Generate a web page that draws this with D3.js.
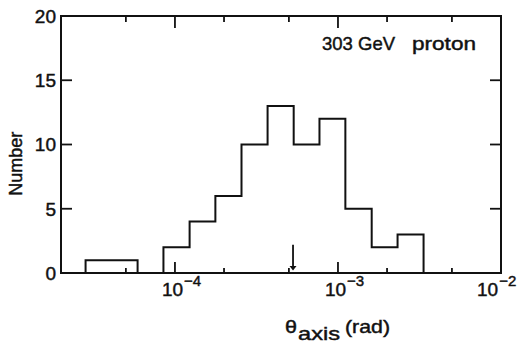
<!DOCTYPE html>
<html>
<head>
<meta charset="utf-8">
<script src="https://cdn.jsdelivr.net/npm/d3@7"></script>
<style>
  html, body { margin: 0; padding: 0; background: #fff; }
  svg { display: block; }
  text { font-family: "Liberation Sans", "DejaVu Sans", sans-serif; fill: #111; stroke: #111; stroke-width: 0.45px; }
</style>
</head>
<body>
<svg id="chart" width="521" height="343"></svg>
<script>
// Bin edges of the angular distribution (rad), log-spaced
const binEdges = [2.83e-5, 4.08e-5, 5.9e-5, 8.5e-5, 1.23e-4, 1.77e-4, 2.56e-4,
                  3.7e-4, 5.35e-4, 7.7e-4, 1.11e-3, 1.61e-3, 2.32e-3, 3.35e-3];
// Number of events in each bin
const counts = [1, 1, 0, 2, 4, 6, 10, 13, 10, 12, 5, 2, 3];
// Mean value, marked by the arrow
const meanTheta = 5.3e-4;

const xDomain = [2e-5, 1e-2];
const yDomain = [0, 20];
const yTicks = [0, 5, 10, 15, 20];
const xMajorTicks = [1e-4, 1e-3, 1e-2];
const xMajorExp = ["-4", "-3", "-2"];
const xMinorTicks = [5e-5, 2e-4, 5e-4, 2e-3, 5e-3];
const titleParts = ["303 GeV", "proton"];
const xTitleParts = ["\u03b8", "axis", "(rad)"];

const margin = { left: 61, right: 20, top: 16, bottom: 70 };
const W = 521, H = 343;
const iw = W - margin.left - margin.right;
const ih = H - margin.top - margin.bottom;

const svg = d3.select("#chart");
const g = svg.append("g").attr("transform", `translate(${margin.left},${margin.top})`);

const x = d3.scaleLog().domain(xDomain).range([0, iw]);
const y = d3.scaleLinear().domain(yDomain).range([ih, 0]);

const ink = "#111";

// Inward ticks on all four sides
function ticks(sel, vals, len, side) {
  vals.forEach(v => {
    if (side === "bottom") sel.append("line").attr("x1", x(v)).attr("x2", x(v)).attr("y1", ih).attr("y2", ih - len);
    if (side === "top") sel.append("line").attr("x1", x(v)).attr("x2", x(v)).attr("y1", 0).attr("y2", len);
    if (side === "left") sel.append("line").attr("x1", 0).attr("x2", len).attr("y1", y(v)).attr("y2", y(v));
    if (side === "right") sel.append("line").attr("x1", iw).attr("x2", iw - len).attr("y1", y(v)).attr("y2", y(v));
  });
}
const tg = g.append("g").attr("stroke", ink).attr("stroke-width", 1.8);
const innerX = xMajorTicks.filter(v => v < xDomain[1]);
ticks(tg, innerX, 11, "bottom");
ticks(tg, innerX, 12, "top");
ticks(tg, xMinorTicks, 5, "bottom");
ticks(tg, xMinorTicks, 6, "top");
const innerY = yTicks.filter(v => v > yDomain[0] && v < yDomain[1]);
ticks(tg, innerY, 11, "left");
ticks(tg, innerY, 11, "right");

// Frame
g.append("rect").attr("x", 0).attr("y", 0).attr("width", iw).attr("height", ih)
  .attr("fill", "none").attr("stroke", ink).attr("stroke-width", 2);

// Y tick labels
g.append("g").selectAll("text").data(yTicks).join("text")
  .attr("x", -5).attr("y", d => y(d)).attr("dy", "0.36em")
  .attr("text-anchor", "end").attr("font-size", 19).text(d => d);

// X tick labels: 10 with superscript exponent
const xl = g.append("g").selectAll("text").data(xMajorTicks).join("text")
  .attr("x", d => Math.min(x(d) - 13, iw - 24)).attr("y", ih + 23)
  .attr("text-anchor", "start").attr("font-size", 19);
xl.append("tspan").text("10");
xl.append("tspan").attr("dy", -10).attr("dx", 1).attr("font-size", 15).text((d, i) => "\u2212" + xMajorExp[i].slice(1));

// Axis titles
const xt = g.append("g").attr("transform", `translate(0,${ih})`);
xt.append("text").attr("x", 224).attr("y", 60).attr("font-size", 19)
  .attr("textLength", 12).attr("lengthAdjust", "spacingAndGlyphs").text(xTitleParts[0]);
xt.append("text").attr("x", 237).attr("y", 67).attr("font-size", 19)
  .attr("textLength", 42).attr("lengthAdjust", "spacingAndGlyphs").text(xTitleParts[1]);
xt.append("text").attr("x", 284).attr("y", 60).attr("font-size", 19)
  .attr("textLength", 45).attr("lengthAdjust", "spacingAndGlyphs").text(xTitleParts[2]);

svg.append("text").attr("transform", `translate(22,${margin.top + y(8.5)}) rotate(-90)`)
  .attr("text-anchor", "middle").attr("font-size", 18).text("Number");

// Run label
g.append("text").attr("x", 261).attr("y", 34).attr("font-size", 19)
  .attr("textLength", 73).attr("lengthAdjust", "spacingAndGlyphs").text(titleParts[0]);
g.append("text").attr("x", 351).attr("y", 34).attr("font-size", 19)
  .attr("textLength", 64).attr("lengthAdjust", "spacingAndGlyphs").text(titleParts[1]);

// Histogram outline as a step line
const pts = [[binEdges[0], 0]];
counts.forEach((c, i) => { pts.push([binEdges[i], c]); pts.push([binEdges[i + 1], c]); });
pts.push([binEdges[binEdges.length - 1], 0]);
g.append("path")
  .attr("d", d3.line().x(d => x(d[0])).y(d => y(d[1]))(pts))
  .attr("fill", "none").attr("stroke", ink).attr("stroke-width", 2).attr("stroke-linejoin", "miter");

// Arrow for the mean
const ax = x(meanTheta);
g.append("line").attr("x1", ax).attr("x2", ax).attr("y1", y(2.2)).attr("y2", y(0.35))
  .attr("stroke", ink).attr("stroke-width", 1.8);
g.append("path")
  .attr("d", `M${ax - 3.5},${y(0.55)} L${ax + 3.5},${y(0.55)} L${ax},${y(0.2)} Z`)
  .attr("fill", ink);
</script>
</body>
</html>
